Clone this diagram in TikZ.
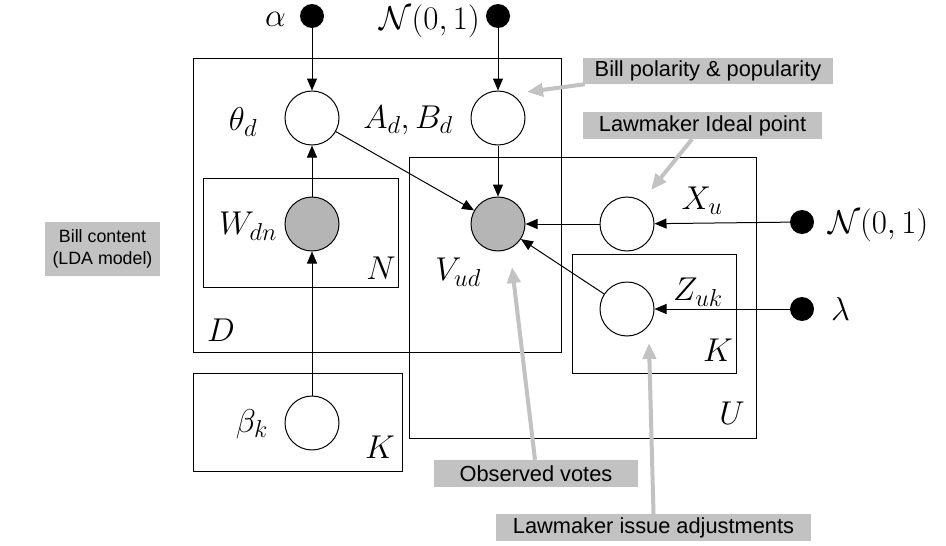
\RequirePackage{fix-cm}
\documentclass[tikz,border=0pt]{standalone}
\usepackage{fontspec}
\newfontfamily\annfont{Liberation Sans}
\usetikzlibrary{arrows.meta}
\DeclareMathSizes{33}{33}{24.5}{18}
\definecolor{obsgray}{gray}{0.71}
\definecolor{anngray}{gray}{0.76}
\tikzset{
  latent/.style={circle, draw, line width=1pt, minimum size=54pt, inner sep=0pt, fill=white},
  obs/.style={latent, fill=obsgray},
  const/.style={circle, fill=black, minimum size=24pt, inner sep=0pt},
  plate/.style={draw, line width=1pt, inner sep=0pt},
  lbl/.style={font=\fontsize{33}{40}\selectfont, inner sep=0pt},
  edge/.style={-{Triangle[length=12pt,width=10pt]}, line width=1pt},
  ann/.style={fill=anngray, font=\annfont\fontsize{21.8}{26}\selectfont, inner sep=0pt, align=center},
  annsmall/.style={ann, font=\annfont\fontsize{17.8}{22}\selectfont},
  annarrow/.style={draw=anngray, line width=4pt, -{Triangle[length=16pt,width=13pt]}}
}
\begin{document}
\begin{tikzpicture}[x=1pt, y=-1pt]
\useasboundingbox (0,0) rectangle (946,546);
% plates
\node[plate, minimum width=368pt, minimum height=294pt] (Dp) at (377,205) {};
\node[plate, minimum width=195pt, minimum height=109pt] (Np) at (300.5,232.5) {};
\node[plate, minimum width=347pt, minimum height=281pt] (Up) at (582.5,297.5) {};
\node[plate, minimum width=164pt, minimum height=119pt] (Kzp) at (654,313.5) {};
\node[plate, minimum width=209pt, minimum height=98pt] (Kbp) at (297.5,422) {};
% plate labels
\node[lbl] (Dl) at (221,330) {$D$};
\node[lbl] (Nl) at (381,268) {$N$};
\node[lbl] (Ul) at (732,413) {$U$};
\node[lbl] (Kzl) at (718,350) {$K$};
\node[lbl] (Kbl) at (380,447) {$K$};
% constants
\node[const] (alpha) at (312,16) {};
\node[const] (n0top) at (498,16) {};
\node[const] (n0r) at (802,222) {};
\node[const] (lam) at (802,309) {};
\node[lbl, anchor=east] (alphal) at (286,19) {$\alpha$};
\node[lbl, anchor=east] (n0topl) at (480,21) {$\mathcal{N}(0,1)$};
\node[lbl, anchor=west] (n0rl) at (828,225) {$\mathcal{N}(0,1)$};
\node[lbl, anchor=west] (laml) at (831,309) {$\lambda$};
% variables
\node[latent] (theta) at (312,118) {};
\node[latent] (AB) at (498,118) {};
\node[obs] (W) at (312,224) {};
\node[obs] (V) at (498,224) {};
\node[latent] (X) at (627,224) {};
\node[latent] (Z) at (627,309) {};
\node[latent] (beta) at (312,423) {};
\node[lbl] (thetal) at (243,122) {$\theta_d$};
\node[lbl] (ABl) at (408,120) {$A_d, B_d$};
\node[lbl] (Wl) at (248,226) {$W_{dn}$};
\node[lbl] (Vl) at (458,272) {$V_{ud}$};
\node[lbl] (Xl) at (702,201) {$X_u$};
\node[lbl] (Zl) at (698,292) {$Z_{uk}$};
\node[lbl] (betal) at (252,424) {$\beta_k$};
% edges
\draw[edge] (alpha) -- (theta);
\draw[edge] (n0top) -- (AB);
\draw[edge] (theta) -- (V);
\draw[edge] (AB) -- (V);
\draw[edge] (X) -- (V);
\draw[edge] (Z) -- (V);
\draw[edge] (n0r) -- (X);
\draw[edge] (lam) -- (Z);
\draw[edge] (W) -- (theta);
\draw[edge] (beta) -- (W);
% annotations
\node[ann, minimum width=250pt, minimum height=26pt] (bp) at (708,71) {Bill polarity \& popularity};
\node[ann, minimum width=239pt, minimum height=27pt] (lip) at (702.5,125.5) {Lawmaker Ideal point};
\node[ann, minimum width=204pt, minimum height=27pt] (ov) at (536,473.5) {Observed votes};
\node[ann, minimum width=315pt, minimum height=27pt] (lia) at (653.5,527.5) {Lawmaker issue adjustments};
\node[annsmall, minimum width=115pt, minimum height=54pt] (bc) at (102.5,249) {Bill content\\(LDA model)};
\coordinate (bptip) at (527,92);
\coordinate (liptip) at (651,190);
\coordinate (ovtip) at (512,267);
\coordinate (liatip) at (649,343);
\draw[annarrow] ([xshift=2pt]bp.south west) -- (bptip);
\draw[annarrow] ([xshift=-10.5pt]lip.south) -- (liptip);
\draw[annarrow] ([xshift=-1pt]ov.north) -- (ovtip);
\draw[annarrow] (lia.north) -- (liatip);
\end{tikzpicture}
\end{document}
